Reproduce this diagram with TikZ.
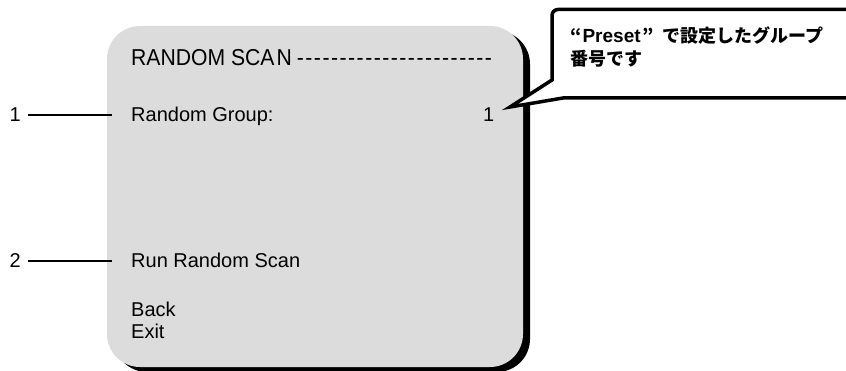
\documentclass[tikz,border=0pt]{standalone}
\usepackage{fontspec}
\setmainfont{Liberation Sans}
\newfontfamily\hdrfont{Liberation Sans}[FakeStretch=0.92]
\newfontfamily\jpfont{Noto Sans CJK JP}
\definecolor{panelgray}{RGB}{220,220,220}
% row of hyphens after the menu title
\newcommand\titlerule{\foreach \k in {1,...,23}{-\kern1.5pt}}
\begin{document}
\begin{tikzpicture}[x=1pt,y=-1pt,
  menutext/.style={inner sep=0pt, anchor=base west, font=\fontsize{20}{24}\selectfont},
  numlabel/.style={inner sep=0pt, anchor=base east, font=\fontsize{20}{24}\selectfont},
  leader/.style={line width=1.3pt, shorten <=7pt},
  callout/.style={line width=3.5pt, draw=black, fill=white, line join=miter},
  jptext/.style={inner sep=0pt, anchor=base west, font=\jpfont\bfseries\fontsize{18}{23}\selectfont}]
\useasboundingbox (0,0) rectangle (846,371);
\clip (0,0) rectangle (846,371);

% on-screen menu panel with its drop shadow
\fill[black, rounded corners=33pt] (114,31) rectangle (530,372);
\fill[panelgray, rounded corners=33pt] (107,26) rectangle (523,367);

% menu lines
\node[menutext] (title) at (131,66)
  {\hdrfont\fontsize{23}{27}\selectfont RANDOM SCA\kern2pt N\kern5pt\titlerule};
\node[menutext] (group) at (131,121.5) {Random Group:};
\node[numlabel] (groupval) at (494.5,121.5) {1};
\node[menutext] (run) at (131,268) {Run Random Scan};
\node[menutext] (back) at (131,316.5) {Back};
\node[menutext] (exit) at (131,338) {Exit};

% item numbers with leader lines
\node[numlabel] (num1) at (21,122) {1};
\node[numlabel] (num2) at (21,268) {2};
\coordinate (lead1) at (112,0);
\coordinate (lead2) at (112,0);
\draw[leader] (num1.east) -- (lead1 |- num1.east);
\draw[leader] (num2.east) -- (lead2 |- num2.east);

% speech bubble pointing at the group number
\coordinate (tip) at (510,107);
\draw[callout] (552,80) {[rounded corners=6pt] -- (552,9.5) -- (870,9.5)}
  -- (870,98) -- (563,98) -- (tip) -- cycle;
\node[jptext] (note1) at (570,43)
  {“\kern1pt{\fontspec{Liberation Sans}\bfseries\fontsize{19}{23}\selectfont Preset}\kern1.5pt”\kern9pt で設定したグループ};
\node[jptext] (note2) at (570,66) {番号です};
\end{tikzpicture}
\end{document}
